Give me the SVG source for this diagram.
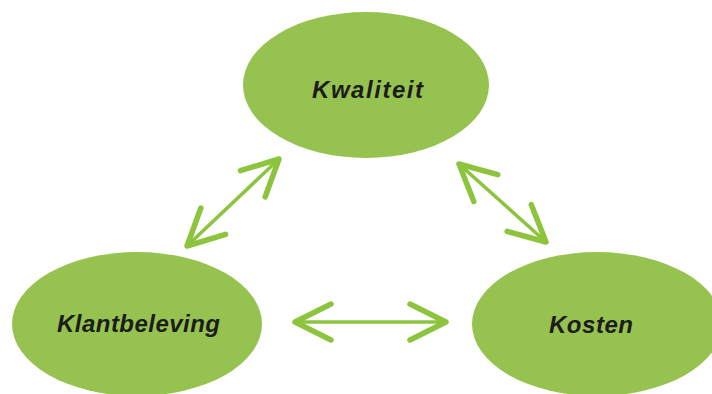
<svg xmlns="http://www.w3.org/2000/svg" width="712" height="394" viewBox="0 0 712 394">
<style>
.node{fill:#96c250;}
.lbl{font-family:"Liberation Sans",Arial,sans-serif;font-weight:bold;font-style:italic;font-size:24px;fill:#1c1c1c;}
.conn{stroke:#8cc43e;stroke-width:3.5;fill:none;}
</style>
<defs>
<marker id="head" viewBox="-44 -26 50 52" markerWidth="50" markerHeight="52" refX="0" refY="0" markerUnits="userSpaceOnUse" orient="auto-start-reverse">
<path d="M-36,-18 L0,0 L-36,18" fill="none" stroke="#8cc43e" stroke-width="5.5" stroke-linecap="round" stroke-linejoin="round"/>
</marker>
</defs>
<rect width="712" height="394" fill="#ffffff"/>
<g id="connectors">
<path class="conn" d="M187,246 L279,159" marker-start="url(#head)" marker-end="url(#head)"/>
<path class="conn" d="M459,164 L546,242" marker-start="url(#head)" marker-end="url(#head)"/>
<path class="conn" d="M295,322 L446,322" marker-start="url(#head)" marker-end="url(#head)"/>
</g>
<g id="kwaliteit">
<ellipse class="node" cx="366" cy="85" rx="123" ry="73"/>
<text class="lbl" x="312" y="98" textLength="111" lengthAdjust="spacing">Kwaliteit</text>
</g>
<g id="klantbeleving">
<ellipse class="node" cx="137" cy="324" rx="125" ry="72"/>
<text class="lbl" x="57" y="332" textLength="163" lengthAdjust="spacing">Klantbeleving</text>
</g>
<g id="kosten">
<ellipse class="node" cx="597" cy="324" rx="125" ry="72"/>
<text class="lbl" x="549" y="333" textLength="84" lengthAdjust="spacing">Kosten</text>
</g>
</svg>
